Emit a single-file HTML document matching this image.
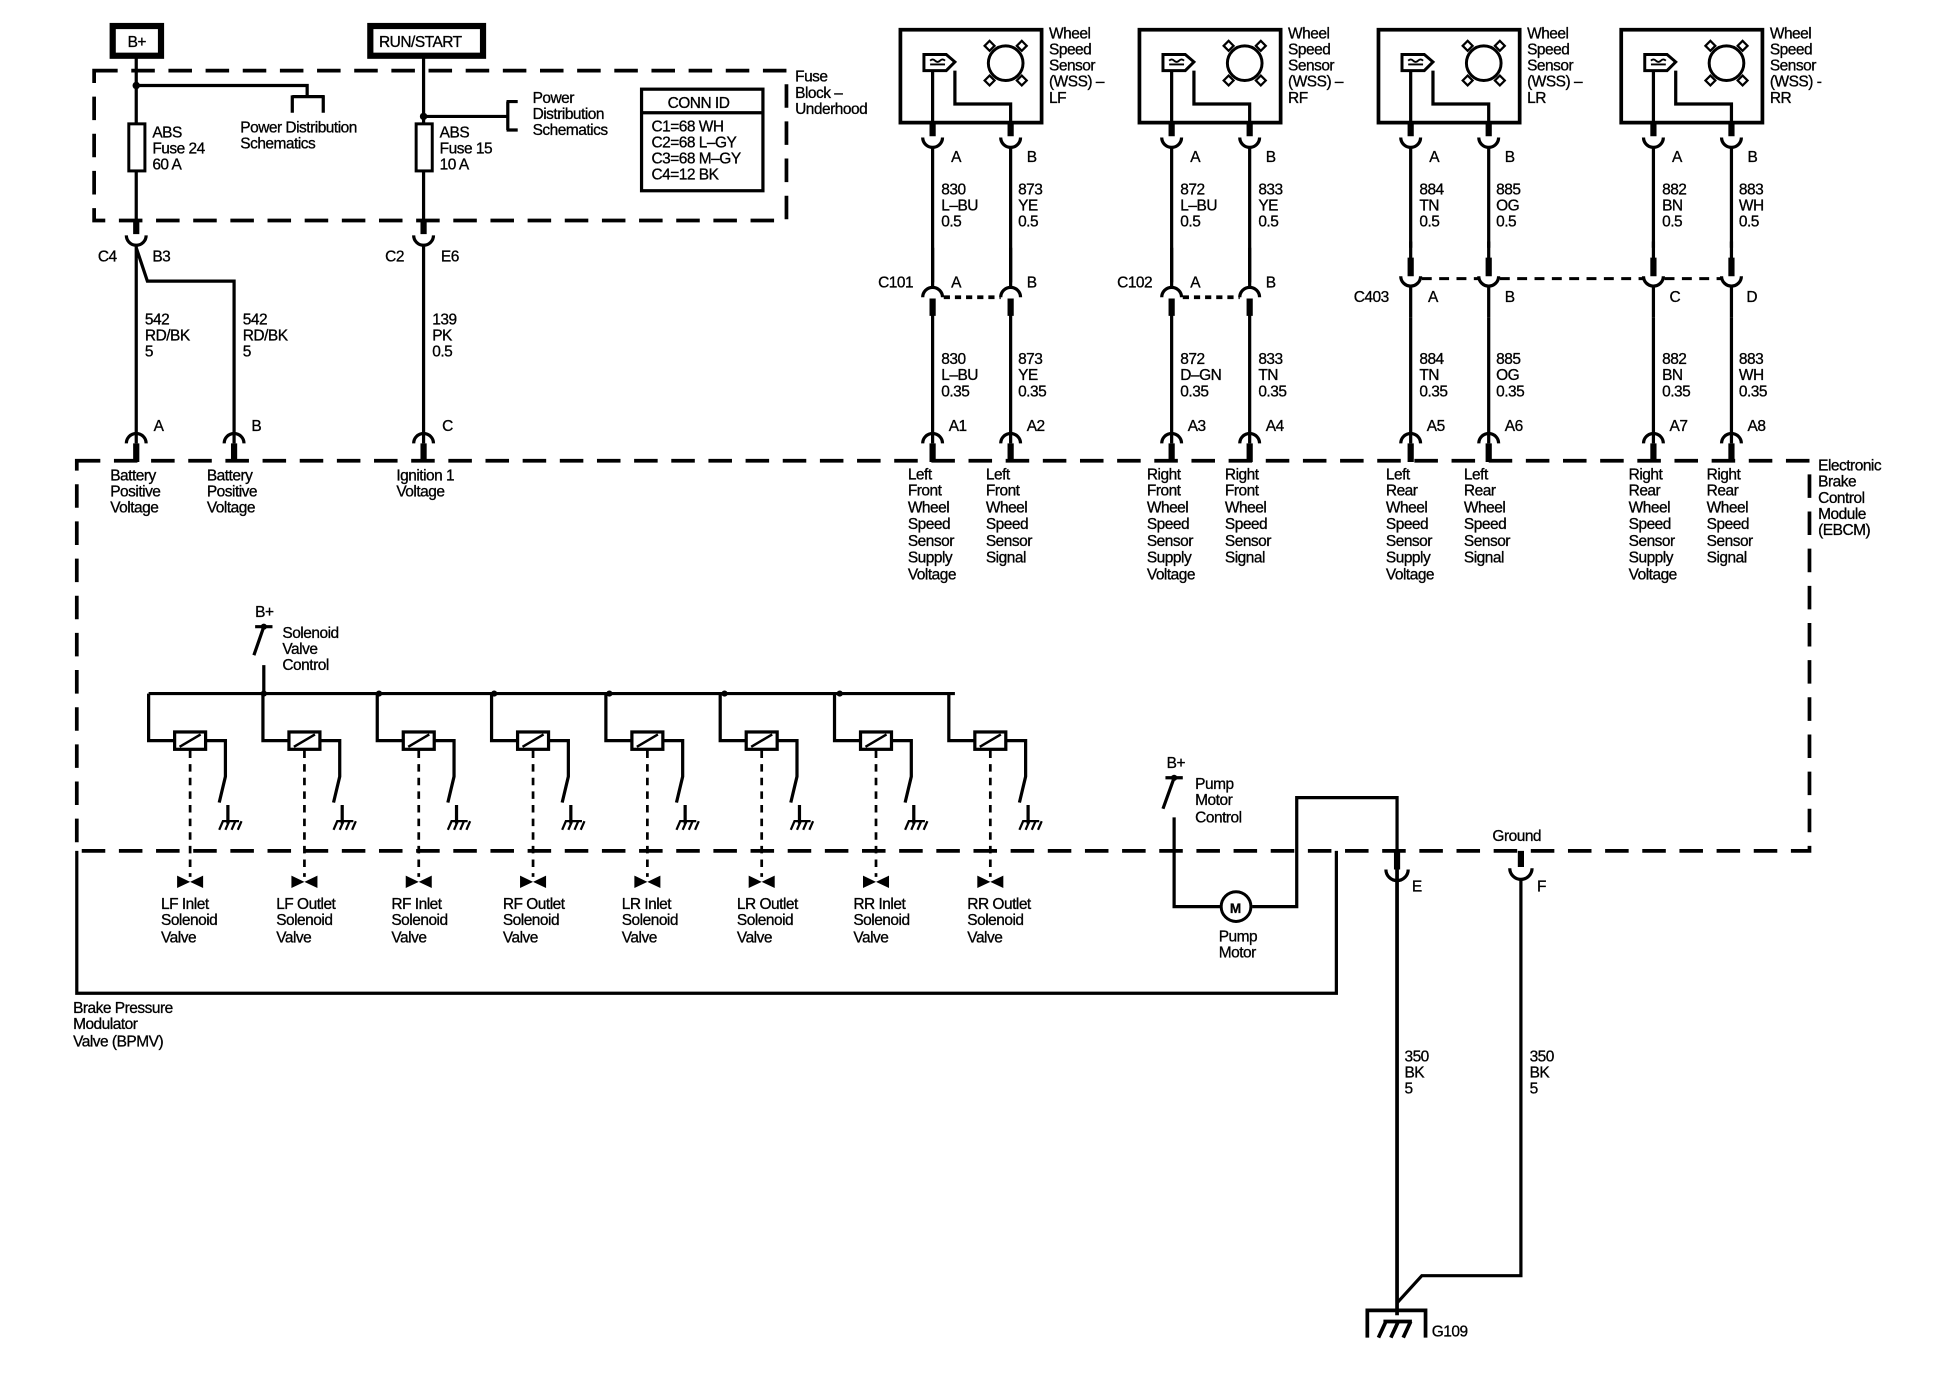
<!DOCTYPE html>
<html><head><meta charset="utf-8"><style>
html,body{margin:0;padding:0;background:#fff}
svg{display:block}
text{font-family:"Liberation Sans",sans-serif;font-size:12.5px;fill:#000;letter-spacing:-0.4px;stroke:#000;stroke-width:0.25px}
.w{stroke:#000;stroke-width:2.6;fill:none}
.t{stroke:#000;stroke-width:5;fill:none}
.d{stroke:#000;stroke-width:3;fill:none;stroke-dasharray:19 11}
.dd{stroke:#000;stroke-width:2.2;fill:none;stroke-dasharray:6 5}
</style></head><body>
<svg width="1942" height="1376" viewBox="0 0 1568 1111" xmlns="http://www.w3.org/2000/svg">
<rect x="0" y="0" width="1568" height="1111" fill="#fff"/>

<rect x="91" y="21" width="39" height="24" fill="none" stroke="#000" stroke-width="5"/>
<text x="103" y="38">B+</text>
<rect x="299" y="21" width="91" height="24" fill="none" stroke="#000" stroke-width="5"/>
<text x="306" y="38">RUN/START</text>

<path class="d" d="M76 57 H635 V178 H76 Z"/>
<text x="642" y="66">Fuse</text><text x="642" y="79">Block –</text><text x="642" y="92">Underhood</text>

<path class="w" d="M110 47 V187"/>
<circle cx="110" cy="69" r="3"/>
<path class="w" d="M110 69 H248 V78 M236 78 H262 M236 77 V91 M261 77 V91"/>
<text x="194" y="107">Power Distribution</text><text x="194" y="120">Schematics</text>
<rect x="104" y="100" width="13" height="38" fill="#fff" stroke="#000" stroke-width="2.4"/>
<text x="123" y="111">ABS</text><text x="123" y="124">Fuse 24</text><text x="123" y="137">60 A</text>

<path class="w" d="M342 47 V187"/>
<circle cx="342" cy="94" r="3"/>
<path class="w" d="M342 94 H410 M410 82 V105 M409 82 H418 M409 105 H418"/>
<text x="430" y="83">Power</text><text x="430" y="96">Distribution</text><text x="430" y="109">Schematics</text>
<rect x="336" y="100" width="13" height="38" fill="#fff" stroke="#000" stroke-width="2.4"/>
<text x="355" y="111">ABS</text><text x="355" y="124">Fuse 15</text><text x="355" y="137">10 A</text>

<rect x="518" y="72" width="98" height="82" fill="none" stroke="#000" stroke-width="2.6"/>
<path class="w" d="M518 91 H616"/>
<text x="539" y="87">CONN ID</text>
<text x="526" y="106">C1=68 WH</text><text x="526" y="119">C2=68 L–GY</text><text x="526" y="132">C3=68 M–GY</text><text x="526" y="145">C4=12 BK</text>

<path class="t" d="M110 178 V189 M342 178 V189"/>
<path class="w" d="M102 190 A8 8 0 0 0 118 190 M334 190 A8 8 0 0 0 350 190"/>
<text x="79" y="211">C4</text><text x="123" y="211">B3</text>
<text x="311" y="211">C2</text><text x="356" y="211">E6</text>
<path class="w" d="M110 198 V358 M110 200 L119 227 H189 V358 M342 198 V358"/>
<text x="117" y="262">542</text><text x="117" y="275">RD/BK</text><text x="117" y="288">5</text>
<text x="196" y="262">542</text><text x="196" y="275">RD/BK</text><text x="196" y="288">5</text>
<text x="349" y="262">139</text><text x="349" y="275">PK</text><text x="349" y="288">0.5</text>

<path class="w" d="M102 358 A8 8 0 0 1 118 358 M181 358 A8 8 0 0 1 197 358 M334 358 A8 8 0 0 1 350 358"/>
<path class="t" d="M110 358 V373 M189 358 V373 M342 358 V373"/>
<text x="124" y="348">A</text><text x="203" y="348">B</text><text x="357" y="348">C</text>

<path class="d" d="M62 372 H1461 V687 H62 Z"/>
<text x="1468" y="380">Electronic</text><text x="1468" y="393">Brake</text><text x="1468" y="406">Control</text><text x="1468" y="419">Module</text><text x="1468" y="432">(EBCM)</text>

<text x="89" y="388">Battery</text><text x="89" y="401">Positive</text><text x="89" y="414">Voltage</text>
<text x="167" y="388">Battery</text><text x="167" y="401">Positive</text><text x="167" y="414">Voltage</text>
<text x="320" y="388">Ignition 1</text><text x="320" y="401">Voltage</text>

<defs>
<g id="wss">
<rect x="727" y="24" width="114" height="75" fill="none" stroke="#000" stroke-width="3"/>
<path d="M746 44 H764 L771 50 L764 57 H746 Z" fill="#fff" stroke="#000" stroke-width="2.4"/>
<path d="M751 49 q2 -2 4 0 q2 2 4 0 q2 -2 4 0 M751 52 H763" stroke="#000" stroke-width="1.5" fill="none"/>
<circle cx="812" cy="51" r="14" fill="none" stroke="#000" stroke-width="2.4"/>
<path d="M795 37 l4 -4 l4 4 l-4 4 z M821 37 l4 -4 l4 4 l-4 4 z M795 65 l4 -4 l4 4 l-4 4 z M821 65 l4 -4 l4 4 l-4 4 z" fill="#fff" stroke="#000" stroke-width="1.8"/>
<path class="w" d="M753 57 V99 M771 57 V84 H816 V99"/>
<path class="t" d="M753 99 V110 M816 99 V110"/>
<path class="w" d="M745 111 A8 8 0 0 0 761 111 M808 111 A8 8 0 0 0 824 111"/>
<path class="w" d="M753 118 V232 M816 118 V232"/>
<path class="w" d="M753 254 V358 M816 254 V358"/>
<path class="w" d="M745 358 A8 8 0 0 1 761 358 M808 358 A8 8 0 0 1 824 358"/>
<path class="t" d="M753 358 V373 M816 358 V373"/>
</g>
</defs>
<use href="#wss"/>
<use href="#wss" transform="translate(193,0)"/>
<use href="#wss" transform="translate(386,0)"/>
<use href="#wss" transform="translate(582,0)"/>

<text x="847" y="31">Wheel</text><text x="847" y="44">Speed</text><text x="847" y="57">Sensor</text><text x="847" y="70">(WSS) –</text><text x="847" y="83">LF</text>
<text x="1040" y="31">Wheel</text><text x="1040" y="44">Speed</text><text x="1040" y="57">Sensor</text><text x="1040" y="70">(WSS) –</text><text x="1040" y="83">RF</text>
<text x="1233" y="31">Wheel</text><text x="1233" y="44">Speed</text><text x="1233" y="57">Sensor</text><text x="1233" y="70">(WSS) –</text><text x="1233" y="83">LR</text>
<text x="1429" y="31">Wheel</text><text x="1429" y="44">Speed</text><text x="1429" y="57">Sensor</text><text x="1429" y="70">(WSS) -</text><text x="1429" y="83">RR</text>

<text x="768" y="131">A</text><text x="829" y="131">B</text>
<text x="961" y="131">A</text><text x="1022" y="131">B</text>
<text x="1154" y="131">A</text><text x="1215" y="131">B</text>
<text x="1350" y="131">A</text><text x="1411" y="131">B</text>

<text x="760" y="157">830</text><text x="760" y="170">L–BU</text><text x="760" y="183">0.5</text>
<text x="822" y="157">873</text><text x="822" y="170">YE</text><text x="822" y="183">0.5</text>
<text x="953" y="157">872</text><text x="953" y="170">L–BU</text><text x="953" y="183">0.5</text>
<text x="1016" y="157">833</text><text x="1016" y="170">YE</text><text x="1016" y="183">0.5</text>
<text x="1146" y="157">884</text><text x="1146" y="170">TN</text><text x="1146" y="183">0.5</text>
<text x="1208" y="157">885</text><text x="1208" y="170">OG</text><text x="1208" y="183">0.5</text>
<text x="1342" y="157">882</text><text x="1342" y="170">BN</text><text x="1342" y="183">0.5</text>
<text x="1404" y="157">883</text><text x="1404" y="170">WH</text><text x="1404" y="183">0.5</text>

<path fill="#fff" stroke="none" d="M740 228 h90 v26 h-90 z M933 228 h90 v26 h-90 z"/>
<path class="w" d="M753 200 V232 M816 200 V232 M946 200 V232 M1009 200 V232"/>
<path class="w" d="M745 240 A8 8 0 0 1 761 240 M808 240 A8 8 0 0 1 824 240 M938 240 A8 8 0 0 1 954 240 M1001 240 A8 8 0 0 1 1017 240"/>
<path class="t" d="M753 241 V255 M816 241 V255 M946 241 V255 M1009 241 V255"/>
<path stroke="#000" stroke-width="3" stroke-dasharray="5 4" d="M762 240 H808 M955 240 H1001"/>
<text x="709" y="232">C101</text><text x="768" y="232">A</text><text x="829" y="232">B</text>
<text x="902" y="232">C102</text><text x="961" y="232">A</text><text x="1022" y="232">B</text>

<path fill="#fff" stroke="none" d="M1125 200 h90 v56 h-90 z M1321 200 h90 v56 h-90 z"/>
<path class="w" d="M1139 195 V212 M1202 195 V212 M1335 195 V212 M1398 195 V212 M1139 230 V256 M1202 230 V256 M1335 230 V256 M1398 230 V256"/>
<path class="t" d="M1139 208 V223 M1202 208 V223 M1335 208 V223 M1398 208 V223"/>
<path class="w" d="M1131 223 A8 8 0 0 0 1147 223 M1194 223 A8 8 0 0 0 1210 223 M1327 223 A8 8 0 0 0 1343 223 M1390 223 A8 8 0 0 0 1406 223"/>
<path stroke="#000" stroke-width="2.4" stroke-dasharray="8 6" d="M1148 225 H1194 M1211 225 H1327 M1344 225 H1390"/>
<text x="1093" y="244">C403</text><text x="1153" y="244">A</text><text x="1215" y="244">B</text><text x="1348" y="244">C</text><text x="1410" y="244">D</text>

<text x="760" y="294">830</text><text x="760" y="307">L–BU</text><text x="760" y="320">0.35</text>
<text x="822" y="294">873</text><text x="822" y="307">YE</text><text x="822" y="320">0.35</text>
<text x="953" y="294">872</text><text x="953" y="307">D–GN</text><text x="953" y="320">0.35</text>
<text x="1016" y="294">833</text><text x="1016" y="307">TN</text><text x="1016" y="320">0.35</text>
<text x="1146" y="294">884</text><text x="1146" y="307">TN</text><text x="1146" y="320">0.35</text>
<text x="1208" y="294">885</text><text x="1208" y="307">OG</text><text x="1208" y="320">0.35</text>
<text x="1342" y="294">882</text><text x="1342" y="307">BN</text><text x="1342" y="320">0.35</text>
<text x="1404" y="294">883</text><text x="1404" y="307">WH</text><text x="1404" y="320">0.35</text>

<text x="766" y="348">A1</text><text x="829" y="348">A2</text>
<text x="959" y="348">A3</text><text x="1022" y="348">A4</text>
<text x="1152" y="348">A5</text><text x="1215" y="348">A6</text>
<text x="1348" y="348">A7</text><text x="1411" y="348">A8</text>

<text x="733" y="387">Left</text><text x="733" y="400">Front</text><text x="733" y="414">Wheel</text><text x="733" y="427">Speed</text><text x="733" y="441">Sensor</text><text x="733" y="454">Supply</text><text x="733" y="468">Voltage</text>
<text x="796" y="387">Left</text><text x="796" y="400">Front</text><text x="796" y="414">Wheel</text><text x="796" y="427">Speed</text><text x="796" y="441">Sensor</text><text x="796" y="454">Signal</text>
<text x="926" y="387">Right</text><text x="926" y="400">Front</text><text x="926" y="414">Wheel</text><text x="926" y="427">Speed</text><text x="926" y="441">Sensor</text><text x="926" y="454">Supply</text><text x="926" y="468">Voltage</text>
<text x="989" y="387">Right</text><text x="989" y="400">Front</text><text x="989" y="414">Wheel</text><text x="989" y="427">Speed</text><text x="989" y="441">Sensor</text><text x="989" y="454">Signal</text>
<text x="1119" y="387">Left</text><text x="1119" y="400">Rear</text><text x="1119" y="414">Wheel</text><text x="1119" y="427">Speed</text><text x="1119" y="441">Sensor</text><text x="1119" y="454">Supply</text><text x="1119" y="468">Voltage</text>
<text x="1182" y="387">Left</text><text x="1182" y="400">Rear</text><text x="1182" y="414">Wheel</text><text x="1182" y="427">Speed</text><text x="1182" y="441">Sensor</text><text x="1182" y="454">Signal</text>
<text x="1315" y="387">Right</text><text x="1315" y="400">Rear</text><text x="1315" y="414">Wheel</text><text x="1315" y="427">Speed</text><text x="1315" y="441">Sensor</text><text x="1315" y="454">Supply</text><text x="1315" y="468">Voltage</text>
<text x="1378" y="387">Right</text><text x="1378" y="400">Rear</text><text x="1378" y="414">Wheel</text><text x="1378" y="427">Speed</text><text x="1378" y="441">Sensor</text><text x="1378" y="454">Signal</text>

<text x="206" y="498">B+</text>
<path class="w" d="M206 506 H220 M213 506 L205 529 M213 537 V560"/>
<circle cx="213" cy="506" r="2.5"/>
<text x="228" y="515">Solenoid</text><text x="228" y="528">Valve</text><text x="228" y="541">Control</text>
<path class="w" d="M120 560 H771"/>
<circle cx="213" cy="560" r="2.5"/><circle cx="306" cy="560" r="2.5"/><circle cx="399" cy="560" r="2.5"/><circle cx="492" cy="560" r="2.5"/><circle cx="585" cy="560" r="2.5"/><circle cx="678" cy="560" r="2.5"/>
<defs>
<g id="sol">
<path class="w" d="M120 560 V598 H141 M166 598 H182 V627 L177 648 M184 650 V665"/>
<rect x="141" y="591" width="25" height="14" fill="#fff" stroke="#000" stroke-width="2.6"/>
<path d="M145 603 L162 593" stroke="#000" stroke-width="2"/>
<path d="M177 670 L180 663 H193 M182 670 L185 663 M187 670 L190 663 M192 670 L195 663" stroke="#000" stroke-width="1.8" fill="none"/>
<path class="dd" d="M153.5 606 V708"/>
<path d="M143 707 L153.5 712 L143 717 Z M164 707 L153.5 712 L164 717 Z" fill="#000"/>
</g>
</defs>
<use href="#sol"/>
<use href="#sol" transform="translate(92.3,0)"/>
<use href="#sol" transform="translate(184.6,0)"/>
<use href="#sol" transform="translate(276.9,0)"/>
<use href="#sol" transform="translate(369.2,0)"/>
<use href="#sol" transform="translate(461.5,0)"/>
<use href="#sol" transform="translate(553.8,0)"/>
<use href="#sol" transform="translate(646.1,0)"/>

<text x="130" y="734">LF Inlet</text><text x="130" y="747">Solenoid</text><text x="130" y="761">Valve</text>
<text x="223" y="734">LF Outlet</text><text x="223" y="747">Solenoid</text><text x="223" y="761">Valve</text>
<text x="316" y="734">RF Inlet</text><text x="316" y="747">Solenoid</text><text x="316" y="761">Valve</text>
<text x="406" y="734">RF Outlet</text><text x="406" y="747">Solenoid</text><text x="406" y="761">Valve</text>
<text x="502" y="734">LR Inlet</text><text x="502" y="747">Solenoid</text><text x="502" y="761">Valve</text>
<text x="595" y="734">LR Outlet</text><text x="595" y="747">Solenoid</text><text x="595" y="761">Valve</text>
<text x="689" y="734">RR Inlet</text><text x="689" y="747">Solenoid</text><text x="689" y="761">Valve</text>
<text x="781" y="734">RR Outlet</text><text x="781" y="747">Solenoid</text><text x="781" y="761">Valve</text>

<path class="w" d="M62 687 V802 H1079 V687"/>
<text x="59" y="818">Brake Pressure</text><text x="59" y="831">Modulator</text><text x="59" y="845">Valve (BPMV)</text>

<text x="942" y="620">B+</text>
<path class="w" d="M941 628 H955 M948 628 L939 653 M948 660 V732 H986 M1011 732 H1047 V644 H1128 V700"/>
<circle cx="948" cy="628" r="2.5"/>
<circle cx="998" cy="732" r="12" fill="#fff" stroke="#000" stroke-width="2.4"/>
<text x="993" y="737" style="font-size:11px;font-weight:bold">M</text>
<text x="965" y="637">Pump</text><text x="965" y="650">Motor</text><text x="965" y="664">Control</text>
<text x="984" y="760">Pump</text><text x="984" y="773">Motor</text>

<path class="t" d="M1128 687 V702 M1228 687 V700"/>
<path class="w" d="M1119 702 A9 9 0 0 0 1137 702 M1219 701 A9 9 0 0 0 1237 701"/>
<text x="1140" y="720">E</text><text x="1241" y="720">F</text>
<text x="1205" y="679">Ground</text>
<path class="w" d="M1228 709 V1030 H1148 L1128 1052"/>
<path d="M1128 700 V1062" stroke="#000" stroke-width="3" fill="none"/>
<text x="1134" y="857">350</text><text x="1134" y="870">BK</text><text x="1134" y="883">5</text>
<text x="1235" y="857">350</text><text x="1235" y="870">BK</text><text x="1235" y="883">5</text>
<path stroke="#000" stroke-width="3" fill="none" d="M1104 1080 V1058 H1151 V1080 M1113 1080 L1119 1067 M1123 1080 L1129 1067 M1133 1080 L1139 1067 M1117 1067 H1140"/>
<text x="1156" y="1079">G109</text>
</svg>
</body></html>
